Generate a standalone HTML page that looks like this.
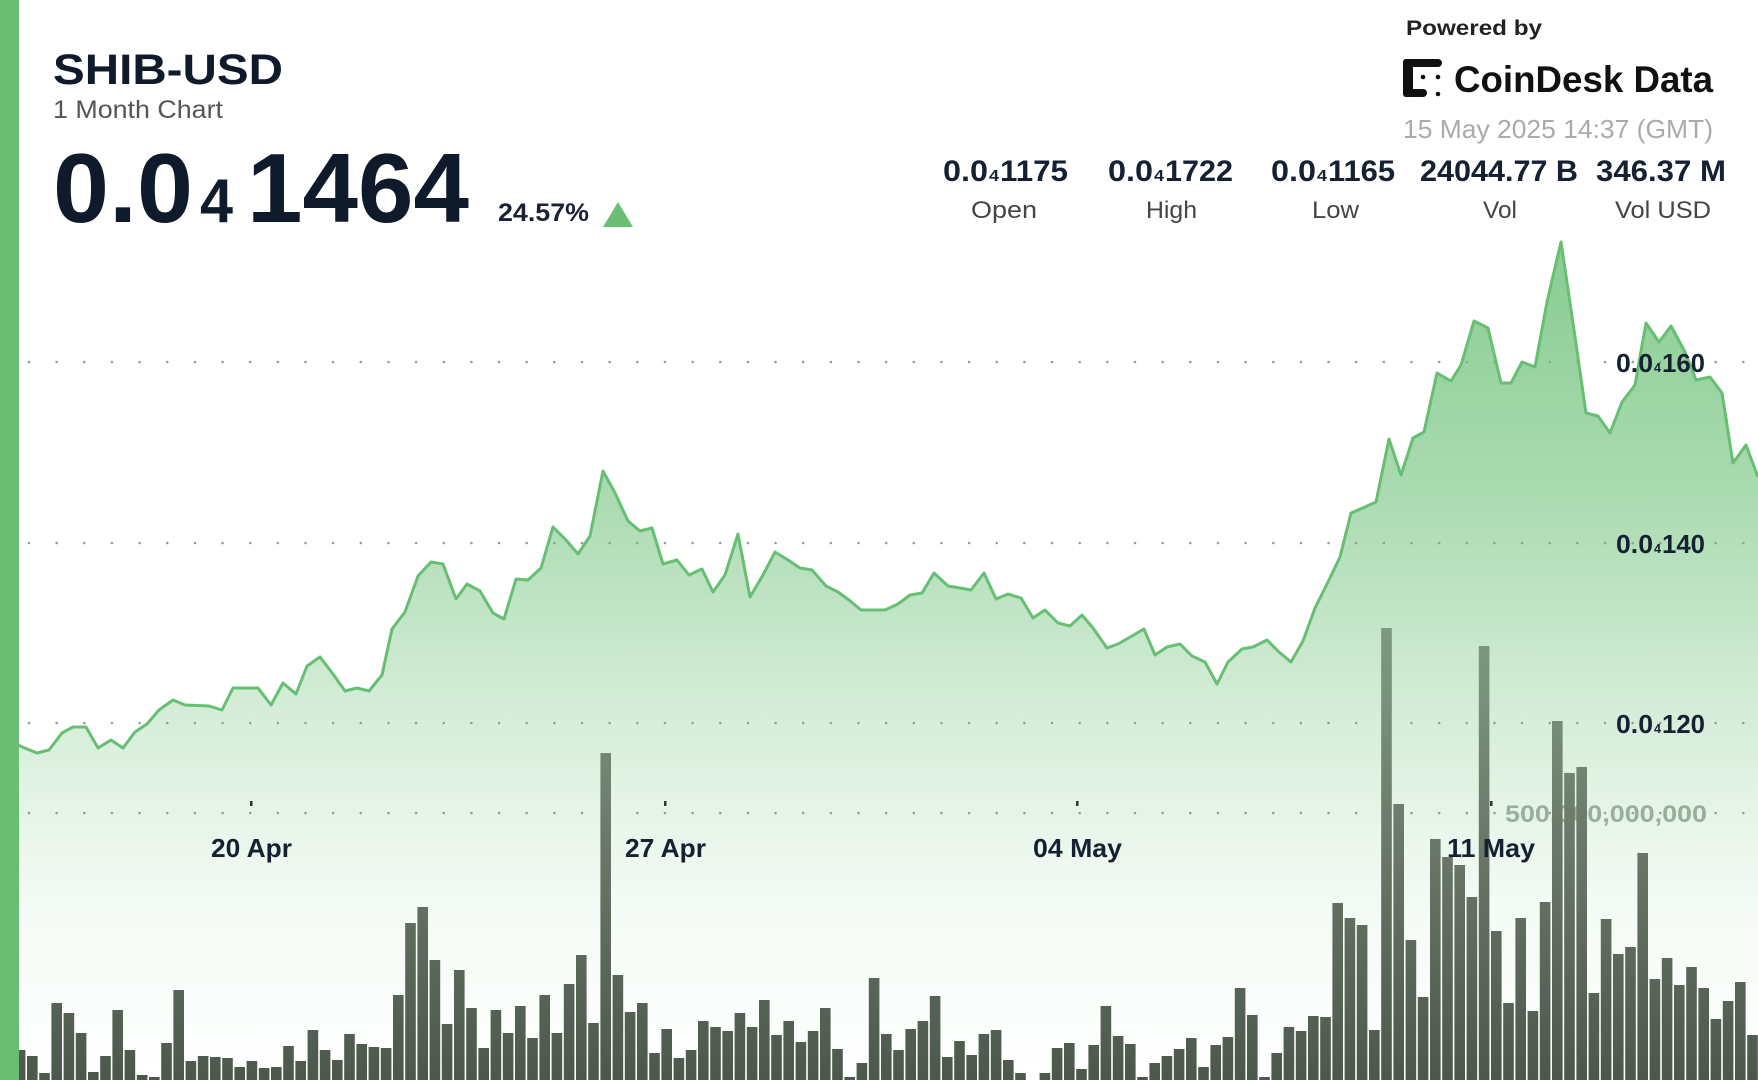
<!DOCTYPE html>
<html><head><meta charset="utf-8"><style>
html,body{margin:0;padding:0;background:#fff;width:1758px;height:1080px;overflow:hidden}
svg{display:block}
</style></head><body>
<svg width="1758" height="1080" viewBox="0 0 1758 1080" xmlns="http://www.w3.org/2000/svg" font-family="'Liberation Sans', Arial, sans-serif">
<defs>
<linearGradient id="ag" gradientUnits="userSpaceOnUse" x1="0" y1="240" x2="0" y2="1080">
<stop offset="0" stop-color="#6abf75" stop-opacity="0.8"/>
<stop offset="0.3" stop-color="#6abf75" stop-opacity="0.57"/>
<stop offset="0.55" stop-color="#6abf75" stop-opacity="0.29"/>
<stop offset="0.78" stop-color="#6abf75" stop-opacity="0.08"/>
<stop offset="1" stop-color="#6abf75" stop-opacity="0"/>
</linearGradient>
<linearGradient id="bg" gradientUnits="userSpaceOnUse" x1="0" y1="600" x2="0" y2="1080">
<stop offset="0" stop-color="#7d9c82"/>
<stop offset="0.21" stop-color="#78917a"/>
<stop offset="0.52" stop-color="#697668"/>
<stop offset="1" stop-color="#4c584c"/>
</linearGradient>
</defs>
<rect width="1758" height="1080" fill="#fff"/>

<g stroke="#9b9b9b" stroke-width="2.6" stroke-linecap="round" stroke-dasharray="0 27.65">
<line x1="29" y1="362" x2="1750" y2="362"/>
<line x1="29" y1="543" x2="1750" y2="543"/>
<line x1="29" y1="723" x2="1750" y2="723"/>
<line x1="29" y1="813" x2="1750" y2="813"/>
</g>

<text x="1505" y="822" font-size="24" font-weight="bold" fill="#a3aba3" textLength="202" lengthAdjust="spacingAndGlyphs">500,000,000,000</text>

<path fill="url(#ag)" d="M18,1080 L18,745 27,749 37,753 49,750 62,733 73,727 86,727 98,748 111,740 123,748 135,732 147,724 159,710 173,700 185,705 209,706 222,710 233,688 258,688 271,705 283,683 296,694 307,666 320,657 333,674 345,691 357,688 369,691 382,675 392,629 405,612 418,576 431,562 443,564 456,599 467,584 480,591 493,613 504,619 516,579 528,580 541,568 553,527 566,540 578,554 590,536 603,471 615,493 628,521 640,531 652,528 663,564 677,560 689,575 702,569 713,592 725,575 738,534 750,597 763,575 775,552 788,560 800,568 812,570 826,586 838,592 849,600 861,610 885,610 898,604 910,595 922,593 934,573 948,586 960,588 971,590 984,573 996,599 1008,594 1021,598 1033,618 1045,610 1058,623 1070,626 1082,615 1093,628 1107,648 1118,644 1132,636 1144,629 1155,655 1167,647 1180,644 1192,656 1205,662 1217,684 1228,662 1242,649 1253,647 1267,640 1279,652 1291,662 1303,641 1315,608 1328,582 1340,557 1351,513 1365,507 1376,502 1389,439 1401,475 1413,438 1424,432 1437,373 1451,381 1461,365 1474,321 1488,328 1501,383 1511,383 1522,362 1535,367 1547,302 1561,242 1574,330 1586,413 1598,416 1610,433 1622,402 1635,385 1646,323 1659,342 1671,326 1685,352 1696,380 1710,377 1722,393 1733,463 1746,445 1758,477 L1758,1080 Z"/>

<g fill="url(#bg)">
<rect x="14.8" y="1050" width="10.6" height="30"/>
<rect x="27.0" y="1056" width="10.6" height="24"/>
<rect x="39.2" y="1073" width="10.6" height="7"/>
<rect x="51.4" y="1003" width="10.6" height="77"/>
<rect x="63.6" y="1013" width="10.6" height="67"/>
<rect x="75.8" y="1033" width="10.6" height="47"/>
<rect x="88.0" y="1072" width="10.6" height="8"/>
<rect x="100.2" y="1056" width="10.6" height="24"/>
<rect x="112.4" y="1010" width="10.6" height="70"/>
<rect x="124.6" y="1050" width="10.6" height="30"/>
<rect x="136.8" y="1075" width="10.6" height="5"/>
<rect x="149.0" y="1077" width="10.6" height="3"/>
<rect x="161.2" y="1043" width="10.6" height="37"/>
<rect x="173.4" y="990" width="10.6" height="90"/>
<rect x="185.6" y="1061" width="10.6" height="19"/>
<rect x="197.8" y="1056" width="10.6" height="24"/>
<rect x="210.0" y="1057" width="10.6" height="23"/>
<rect x="222.2" y="1058" width="10.6" height="22"/>
<rect x="234.4" y="1067" width="10.6" height="13"/>
<rect x="246.6" y="1061" width="10.6" height="19"/>
<rect x="258.8" y="1068" width="10.6" height="12"/>
<rect x="271.0" y="1067" width="10.6" height="13"/>
<rect x="283.2" y="1046" width="10.6" height="34"/>
<rect x="295.4" y="1061" width="10.6" height="19"/>
<rect x="307.6" y="1030" width="10.6" height="50"/>
<rect x="319.8" y="1050" width="10.6" height="30"/>
<rect x="332.0" y="1060" width="10.6" height="20"/>
<rect x="344.2" y="1034" width="10.6" height="46"/>
<rect x="356.4" y="1044" width="10.6" height="36"/>
<rect x="368.6" y="1047" width="10.6" height="33"/>
<rect x="380.8" y="1048" width="10.6" height="32"/>
<rect x="393.0" y="995" width="10.6" height="85"/>
<rect x="405.2" y="923" width="10.6" height="157"/>
<rect x="417.4" y="907" width="10.6" height="173"/>
<rect x="429.6" y="960" width="10.6" height="120"/>
<rect x="441.8" y="1024" width="10.6" height="56"/>
<rect x="454.0" y="970" width="10.6" height="110"/>
<rect x="466.2" y="1008" width="10.6" height="72"/>
<rect x="478.4" y="1048" width="10.6" height="32"/>
<rect x="490.6" y="1010" width="10.6" height="70"/>
<rect x="502.8" y="1033" width="10.6" height="47"/>
<rect x="515.0" y="1006" width="10.6" height="74"/>
<rect x="527.2" y="1038" width="10.6" height="42"/>
<rect x="539.4" y="995" width="10.6" height="85"/>
<rect x="551.6" y="1033" width="10.6" height="47"/>
<rect x="563.8" y="984" width="10.6" height="96"/>
<rect x="576.0" y="955" width="10.6" height="125"/>
<rect x="588.2" y="1023" width="10.6" height="57"/>
<rect x="600.4" y="753" width="10.6" height="327"/>
<rect x="612.6" y="975" width="10.6" height="105"/>
<rect x="624.8" y="1012" width="10.6" height="68"/>
<rect x="637.0" y="1003" width="10.6" height="77"/>
<rect x="649.2" y="1053" width="10.6" height="27"/>
<rect x="661.4" y="1029" width="10.6" height="51"/>
<rect x="673.6" y="1058" width="10.6" height="22"/>
<rect x="685.8" y="1050" width="10.6" height="30"/>
<rect x="698.0" y="1021" width="10.6" height="59"/>
<rect x="710.2" y="1027" width="10.6" height="53"/>
<rect x="722.4" y="1031" width="10.6" height="49"/>
<rect x="734.6" y="1013" width="10.6" height="67"/>
<rect x="746.8" y="1027" width="10.6" height="53"/>
<rect x="759.0" y="1000" width="10.6" height="80"/>
<rect x="771.2" y="1035" width="10.6" height="45"/>
<rect x="783.4" y="1021" width="10.6" height="59"/>
<rect x="795.6" y="1042" width="10.6" height="38"/>
<rect x="807.8" y="1031" width="10.6" height="49"/>
<rect x="820.0" y="1008" width="10.6" height="72"/>
<rect x="832.2" y="1049" width="10.6" height="31"/>
<rect x="844.4" y="1077" width="10.6" height="3"/>
<rect x="856.6" y="1063" width="10.6" height="17"/>
<rect x="868.8" y="978" width="10.6" height="102"/>
<rect x="881.0" y="1034" width="10.6" height="46"/>
<rect x="893.2" y="1050" width="10.6" height="30"/>
<rect x="905.4" y="1029" width="10.6" height="51"/>
<rect x="917.6" y="1021" width="10.6" height="59"/>
<rect x="929.8" y="996" width="10.6" height="84"/>
<rect x="942.0" y="1057" width="10.6" height="23"/>
<rect x="954.2" y="1041" width="10.6" height="39"/>
<rect x="966.4" y="1055" width="10.6" height="25"/>
<rect x="978.6" y="1034" width="10.6" height="46"/>
<rect x="990.8" y="1030" width="10.6" height="50"/>
<rect x="1003.0" y="1060" width="10.6" height="20"/>
<rect x="1015.2" y="1073" width="10.6" height="7"/>
<rect x="1039.6" y="1073" width="10.6" height="7"/>
<rect x="1051.8" y="1048" width="10.6" height="32"/>
<rect x="1064.0" y="1043" width="10.6" height="37"/>
<rect x="1076.2" y="1069" width="10.6" height="11"/>
<rect x="1088.4" y="1045" width="10.6" height="35"/>
<rect x="1100.6" y="1006" width="10.6" height="74"/>
<rect x="1112.8" y="1036" width="10.6" height="44"/>
<rect x="1125.0" y="1044" width="10.6" height="36"/>
<rect x="1137.2" y="1077" width="10.6" height="3"/>
<rect x="1149.4" y="1063" width="10.6" height="17"/>
<rect x="1161.6" y="1056" width="10.6" height="24"/>
<rect x="1173.8" y="1049" width="10.6" height="31"/>
<rect x="1186.0" y="1038" width="10.6" height="42"/>
<rect x="1198.2" y="1067" width="10.6" height="13"/>
<rect x="1210.4" y="1045" width="10.6" height="35"/>
<rect x="1222.6" y="1037" width="10.6" height="43"/>
<rect x="1234.8" y="988" width="10.6" height="92"/>
<rect x="1247.0" y="1015" width="10.6" height="65"/>
<rect x="1259.2" y="1077" width="10.6" height="3"/>
<rect x="1271.4" y="1053" width="10.6" height="27"/>
<rect x="1283.6" y="1027" width="10.6" height="53"/>
<rect x="1295.8" y="1031" width="10.6" height="49"/>
<rect x="1308.0" y="1016" width="10.6" height="64"/>
<rect x="1320.2" y="1017" width="10.6" height="63"/>
<rect x="1332.4" y="903" width="10.6" height="177"/>
<rect x="1344.6" y="918" width="10.6" height="162"/>
<rect x="1356.8" y="925" width="10.6" height="155"/>
<rect x="1369.0" y="1030" width="10.6" height="50"/>
<rect x="1381.2" y="628" width="10.6" height="452"/>
<rect x="1393.4" y="804" width="10.6" height="276"/>
<rect x="1405.6" y="940" width="10.6" height="140"/>
<rect x="1417.8" y="997" width="10.6" height="83"/>
<rect x="1430.0" y="839" width="10.6" height="241"/>
<rect x="1442.2" y="857" width="10.6" height="223"/>
<rect x="1454.4" y="865" width="10.6" height="215"/>
<rect x="1466.6" y="897" width="10.6" height="183"/>
<rect x="1478.8" y="646" width="10.6" height="434"/>
<rect x="1491.0" y="931" width="10.6" height="149"/>
<rect x="1503.2" y="1003" width="10.6" height="77"/>
<rect x="1515.4" y="918" width="10.6" height="162"/>
<rect x="1527.6" y="1011" width="10.6" height="69"/>
<rect x="1539.8" y="902" width="10.6" height="178"/>
<rect x="1552.0" y="721" width="10.6" height="359"/>
<rect x="1564.2" y="773" width="10.6" height="307"/>
<rect x="1576.4" y="767" width="10.6" height="313"/>
<rect x="1588.6" y="993" width="10.6" height="87"/>
<rect x="1600.8" y="919" width="10.6" height="161"/>
<rect x="1613.0" y="954" width="10.6" height="126"/>
<rect x="1625.2" y="947" width="10.6" height="133"/>
<rect x="1637.4" y="853" width="10.6" height="227"/>
<rect x="1649.6" y="979" width="10.6" height="101"/>
<rect x="1661.8" y="958" width="10.6" height="122"/>
<rect x="1674.0" y="985" width="10.6" height="95"/>
<rect x="1686.2" y="967" width="10.6" height="113"/>
<rect x="1698.4" y="988" width="10.6" height="92"/>
<rect x="1710.6" y="1019" width="10.6" height="61"/>
<rect x="1722.8" y="1001" width="10.6" height="79"/>
<rect x="1735.0" y="982" width="10.6" height="98"/>
<rect x="1747.2" y="1035" width="10.6" height="45"/>
</g>

<polyline fill="none" stroke="#66bf73" stroke-width="3" stroke-linejoin="round" points="18,745 27,749 37,753 49,750 62,733 73,727 86,727 98,748 111,740 123,748 135,732 147,724 159,710 173,700 185,705 209,706 222,710 233,688 258,688 271,705 283,683 296,694 307,666 320,657 333,674 345,691 357,688 369,691 382,675 392,629 405,612 418,576 431,562 443,564 456,599 467,584 480,591 493,613 504,619 516,579 528,580 541,568 553,527 566,540 578,554 590,536 603,471 615,493 628,521 640,531 652,528 663,564 677,560 689,575 702,569 713,592 725,575 738,534 750,597 763,575 775,552 788,560 800,568 812,570 826,586 838,592 849,600 861,610 885,610 898,604 910,595 922,593 934,573 948,586 960,588 971,590 984,573 996,599 1008,594 1021,598 1033,618 1045,610 1058,623 1070,626 1082,615 1093,628 1107,648 1118,644 1132,636 1144,629 1155,655 1167,647 1180,644 1192,656 1205,662 1217,684 1228,662 1242,649 1253,647 1267,640 1279,652 1291,662 1303,641 1315,608 1328,582 1340,557 1351,513 1365,507 1376,502 1389,439 1401,475 1413,438 1424,432 1437,373 1451,381 1461,365 1474,321 1488,328 1501,383 1511,383 1522,362 1535,367 1547,302 1561,242 1574,330 1586,413 1598,416 1610,433 1622,402 1635,385 1646,323 1659,342 1671,326 1685,352 1696,380 1710,377 1722,393 1733,463 1746,445 1758,477"/>

<g font-weight="bold" fill="#152033">
<text x="1616" y="372" font-size="26" textLength="37" lengthAdjust="spacingAndGlyphs">0.0</text>
<text x="1654" y="372" font-size="13" textLength="7" lengthAdjust="spacingAndGlyphs">4</text>
<text x="1662" y="372" font-size="26" textLength="43" lengthAdjust="spacingAndGlyphs">160</text>
<text x="1616" y="553" font-size="26" textLength="37" lengthAdjust="spacingAndGlyphs">0.0</text>
<text x="1654" y="553" font-size="13" textLength="7" lengthAdjust="spacingAndGlyphs">4</text>
<text x="1662" y="553" font-size="26" textLength="43" lengthAdjust="spacingAndGlyphs">140</text>
<text x="1616" y="733" font-size="26" textLength="37" lengthAdjust="spacingAndGlyphs">0.0</text>
<text x="1654" y="733" font-size="13" textLength="7" lengthAdjust="spacingAndGlyphs">4</text>
<text x="1662" y="733" font-size="26" textLength="43" lengthAdjust="spacingAndGlyphs">120</text>
</g>

<g fill="#333">
<rect x="250" y="801" width="2.5" height="5"/>
<rect x="664" y="801" width="2.5" height="5"/>
<rect x="1076" y="801" width="2.5" height="5"/>
<rect x="1490" y="801" width="2.5" height="5"/>
</g>
<g font-weight="bold" fill="#152033" font-size="26">
<text x="211" y="857" textLength="81" lengthAdjust="spacingAndGlyphs">20 Apr</text>
<text x="625" y="857" textLength="81" lengthAdjust="spacingAndGlyphs">27 Apr</text>
<text x="1033" y="857" textLength="89" lengthAdjust="spacingAndGlyphs">04 May</text>
<text x="1447" y="857" textLength="88" lengthAdjust="spacingAndGlyphs">11 May</text>
</g>

<text x="53" y="84" font-size="43" font-weight="bold" fill="#0f1a2a" textLength="230" lengthAdjust="spacingAndGlyphs">SHIB-USD</text>
<text x="53" y="118" font-size="25" fill="#555" textLength="170" lengthAdjust="spacingAndGlyphs">1 Month Chart</text>
<g font-weight="bold" fill="#0f1a2a">
<text x="53" y="222" font-size="98" textLength="140" lengthAdjust="spacingAndGlyphs">0.0</text>
<text x="200" y="222" font-size="62" textLength="33" lengthAdjust="spacingAndGlyphs">4</text>
<text x="247" y="222" font-size="98" textLength="222" lengthAdjust="spacingAndGlyphs">1464</text>
</g>
<text x="498" y="221" font-size="25" font-weight="bold" fill="#1a2233" textLength="91" lengthAdjust="spacingAndGlyphs">24.57%</text>
<polygon points="603,227 633,227 618,202" fill="#6abf75"/>

<text x="1406" y="35" font-size="21" font-weight="bold" fill="#222" textLength="136" lengthAdjust="spacingAndGlyphs">Powered by</text>
<g fill="#111">
<rect x="1403" y="59" width="10" height="38" rx="3"/>
<rect x="1403" y="59" width="39" height="8" rx="4"/>
<rect x="1403" y="89" width="24" height="8" rx="4"/>
<circle cx="1423" cy="77" r="2.3"/>
<circle cx="1438" cy="77" r="2.3"/>
<circle cx="1438" cy="94" r="2.3"/>
</g>
<text x="1454" y="92" font-size="37" font-weight="bold" fill="#111" textLength="259" lengthAdjust="spacingAndGlyphs">CoinDesk Data</text>
<text x="1403" y="138" font-size="26" fill="#aaa" textLength="310" lengthAdjust="spacingAndGlyphs">15 May 2025 14:37 (GMT)</text>

<g font-weight="bold" fill="#152033">
<text x="943" y="181" font-size="30" textLength="45" lengthAdjust="spacingAndGlyphs">0.0</text>
<text x="989" y="181" font-size="16" textLength="10" lengthAdjust="spacingAndGlyphs">4</text>
<text x="1000" y="181" font-size="30" textLength="68" lengthAdjust="spacingAndGlyphs">1175</text>
<text x="1108" y="181" font-size="30" textLength="45" lengthAdjust="spacingAndGlyphs">0.0</text>
<text x="1154" y="181" font-size="16" textLength="10" lengthAdjust="spacingAndGlyphs">4</text>
<text x="1165" y="181" font-size="30" textLength="68" lengthAdjust="spacingAndGlyphs">1722</text>
<text x="1271" y="181" font-size="30" textLength="45" lengthAdjust="spacingAndGlyphs">0.0</text>
<text x="1317" y="181" font-size="16" textLength="10" lengthAdjust="spacingAndGlyphs">4</text>
<text x="1328" y="181" font-size="30" textLength="67" lengthAdjust="spacingAndGlyphs">1165</text>
<text x="1420" y="181" font-size="30" textLength="158" lengthAdjust="spacingAndGlyphs">24044.77 B</text>
<text x="1596" y="181" font-size="30" textLength="130" lengthAdjust="spacingAndGlyphs">346.37 M</text>
</g>
<g fill="#444" font-size="24">
<text x="971" y="218" textLength="66" lengthAdjust="spacingAndGlyphs">Open</text>
<text x="1146" y="218" textLength="51" lengthAdjust="spacingAndGlyphs">High</text>
<text x="1312" y="218" textLength="47" lengthAdjust="spacingAndGlyphs">Low</text>
<text x="1483" y="218" textLength="34" lengthAdjust="spacingAndGlyphs">Vol</text>
<text x="1615" y="218" textLength="96" lengthAdjust="spacingAndGlyphs">Vol USD</text>
</g>

<rect x="0" y="0" width="19" height="1080" fill="#69be74"/>
</svg>
</body></html>
